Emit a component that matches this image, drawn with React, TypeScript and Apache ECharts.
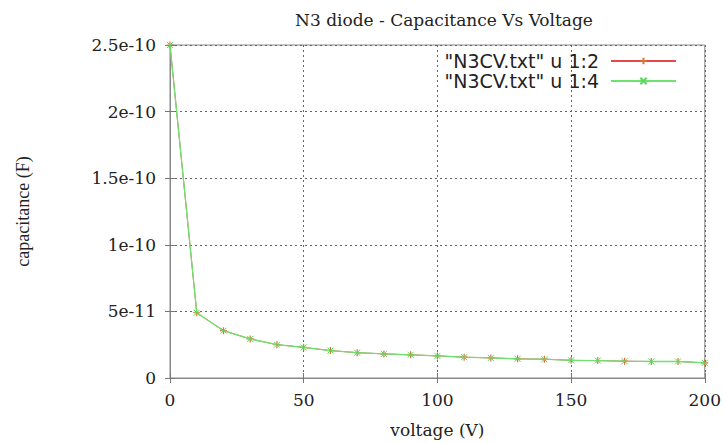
import React, { useEffect, useRef } from "react";
import * as echarts from "echarts";

const voltage = [0, 10, 20, 30, 40, 50, 60, 70, 80, 90, 100, 110, 120, 130, 140, 150, 160, 170, 180, 190, 200];
const capCol2 = [2.5e-10, 4.9e-11, 3.55e-11, 2.93e-11, 2.5e-11, 2.3e-11, 2.06e-11, 1.9e-11, 1.81e-11, 1.74e-11, 1.66e-11, 1.56e-11, 1.51e-11, 1.44e-11, 1.41e-11, 1.33e-11, 1.31e-11, 1.26e-11, 1.24e-11, 1.24e-11, 1.14e-11];
const capCol4 = [2.5e-10, 4.9e-11, 3.55e-11, 2.93e-11, 2.5e-11, 2.3e-11, 2.06e-11, 1.9e-11, 1.81e-11, 1.74e-11, 1.66e-11, 1.56e-11, 1.51e-11, 1.44e-11, 1.41e-11, 1.33e-11, 1.31e-11, 1.26e-11, 1.24e-11, 1.24e-11, 1.14e-11];
const yTickLabels = ["0", "5e-11", "1e-10", "1.5e-10", "2e-10", "2.5e-10"];
const seriesNames = ['"N3CV.txt" u 1:2', '"N3CV.txt" u 1:4'];

const PLUS = "path://M5 0L5 10M0 5L10 5";
const CROSS = "path://M0 0L10 10M10 0L0 10";

export default function App() {
  const ref = useRef<HTMLDivElement>(null);
  useEffect(() => {
    if (!ref.current) return;
    const chart = echarts.init(ref.current, null, { renderer: "svg" });
    const serif = "DejaVu Serif";
    const gridLine = { show: true, lineStyle: { color: "#666", type: [2, 3] as any, width: 1 } };
    const tick = { show: true, inside: true, length: 5, lineStyle: { color: "#777" } };
    chart.setOption({
      animation: false,
      backgroundColor: "#fff",
      title: {
        text: "N3 diode - Capacitance Vs Voltage",
        left: 439,
        textAlign: "center",
        top: 6,
        textStyle: { fontFamily: serif, fontSize: 17, fontWeight: "normal", color: "#222" },
      },
      legend: {
        orient: "vertical",
        right: 47,
        top: 51,
        align: "right",
        itemWidth: 65,
        itemHeight: 8,
        itemGap: 0,
        padding: 0,
        data: seriesNames,
        textStyle: { fontFamily: "DejaVu Sans", fontSize: 19, color: "#222", lineHeight: 20, padding: [0, 7, 0, 0] },
      },
      grid: { left: 170, right: 19, top: 45, bottom: 62, show: true, borderColor: "#888", borderWidth: 1 },
      xAxis: [
        {
          type: "value",
          min: 0,
          max: 200,
          interval: 50,
          name: "voltage (V)",
          nameLocation: "middle",
          nameGap: 43,
          nameTextStyle: { fontFamily: serif, fontSize: 17, color: "#222" },
          axisLine: { show: true, lineStyle: { color: "#888" } },
          axisTick: tick,
          axisLabel: { fontFamily: serif, fontSize: 17, color: "#222", margin: 13 },
          splitLine: gridLine,
        },
        {
          type: "value",
          position: "top",
          min: 0,
          max: 200,
          interval: 50,
          axisLine: { show: false },
          axisTick: tick,
          axisLabel: { show: false },
          splitLine: { show: false },
        },
      ],
      yAxis: [
        {
          type: "value",
          min: 0,
          max: 2.5e-10,
          interval: 5e-11,
          name: "capacitance (F)",
          nameLocation: "middle",
          nameGap: 138,
          nameRotate: 90,
          nameTextStyle: { fontFamily: "Liberation Serif", fontSize: 18, color: "#222" },
          axisLine: { show: true, lineStyle: { color: "#888" } },
          axisTick: tick,
          axisLabel: {
            fontFamily: serif,
            fontSize: 17,
            color: "#222",
            margin: 14,
            formatter: (_v: number, i: number) => yTickLabels[i] ?? "",
          },
          splitLine: gridLine,
        },
        {
          type: "value",
          position: "right",
          min: 0,
          max: 2.5e-10,
          interval: 5e-11,
          axisLine: { show: false },
          axisTick: tick,
          axisLabel: { show: false },
          splitLine: { show: false },
        },
      ],
      series: [
        {
          name: seriesNames[0],
          type: "line",
          data: voltage.map((v, i) => [v, capCol2[i]]),
          symbol: PLUS,
          symbolSize: 7,
          showSymbol: true,
          lineStyle: { color: "#e8474a", width: 1 },
          itemStyle: { color: "#e8474a", borderColor: "#e07030", borderWidth: 1.2 },
          z: 2,
        },
        {
          name: seriesNames[1],
          type: "line",
          data: voltage.map((v, i) => [v, capCol4[i]]),
          symbol: CROSS,
          symbolSize: 6,
          showSymbol: true,
          lineStyle: { color: "#6ee26e", width: 1.3 },
          itemStyle: { color: "#6ee26e", borderColor: "#5cd65c", borderWidth: 1 },
          z: 3,
        },
      ],
    });
    return () => chart.dispose();
  }, []);
  return <div ref={ref} style={{ width: 724, height: 443, position: "absolute", left: 0, top: 0 }} />;
}
